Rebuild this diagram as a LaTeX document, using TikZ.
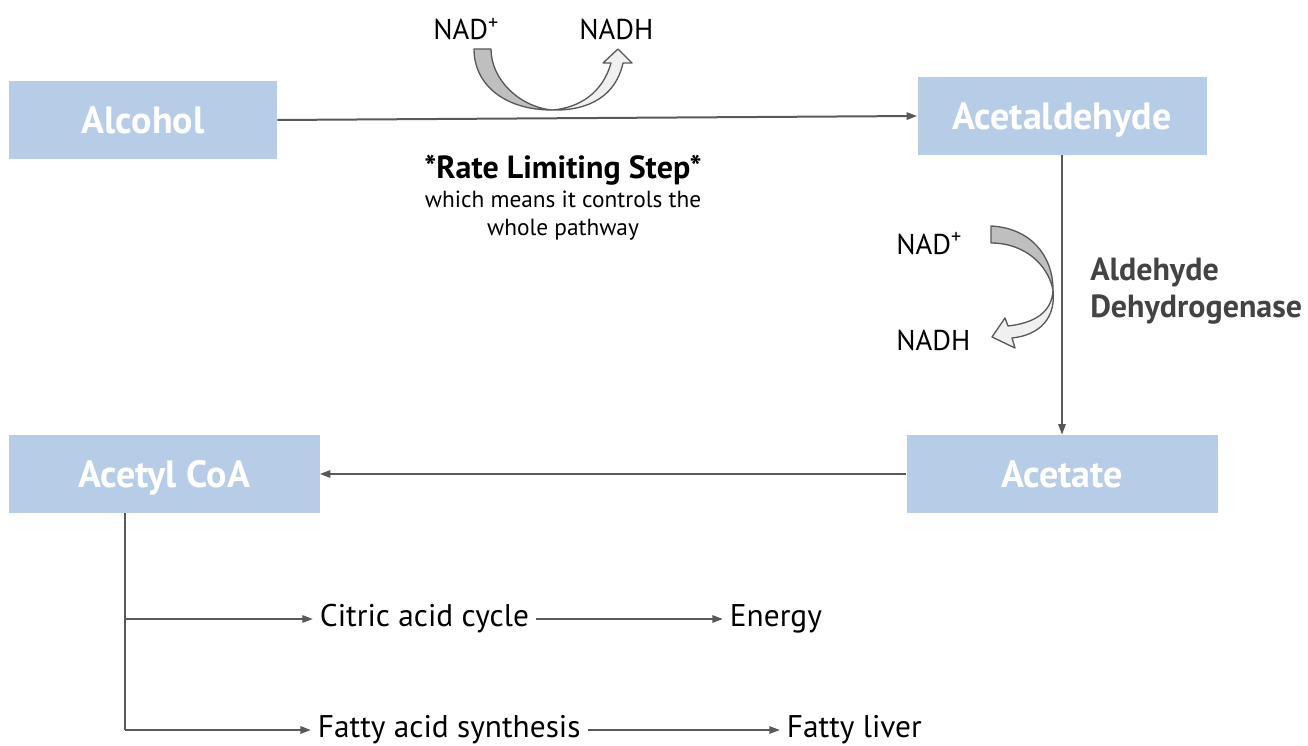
\documentclass[tikz,border=0pt]{standalone}
\usepackage{fontspec}
\setmainfont{PT Sans}
\usetikzlibrary{arrows.meta,positioning}
\definecolor{boxblue}{RGB}{183,205,231}
\definecolor{linegray}{RGB}{89,89,89}
\definecolor{darkfill}{RGB}{191,191,191}
\definecolor{lightfill}{RGB}{240,240,240}
\definecolor{enzgray}{RGB}{67,67,67}

\begin{document}
\begin{tikzpicture}[x=0.75pt,y=-0.75pt,
    stepbox/.style={fill=boxblue, text=white, font=\bfseries\fontsize{28.5}{32}\selectfont,
      minimum height=58.5pt, inner sep=0pt, text height=20pt, text depth=0pt},
    flow/.style={draw=linegray, line width=1.5pt, -{Triangle[length=8pt,width=5.5pt]}},
    cofactor/.style={font=\fontsize{21.5}{25}\selectfont, inner sep=0pt, anchor=base west},
    product/.style={font=\fontsize{23.5}{27}\selectfont, inner xsep=5pt, inner ysep=0pt, anchor=west},
    cofarrow/.style={draw=linegray, line width=1pt, line join=round}]

    \useasboundingbox (0,0) rectangle (1308,745);

    % Boxes
    \node[stepbox, minimum width=201pt] (alcohol) at (143,120) {Alcohol};
    \node[stepbox, minimum width=216.75pt] (acetald) at (1062,116) {Acetaldehyde};
    \node[stepbox, minimum width=233.25pt] (acetate) at (1062,474) {Acetate};
    \node[stepbox, minimum width=233.25pt] (acetylcoa) at (164,474) {Acetyl CoA};

    % Cofactors
    \node[cofactor] (nadA) at (433,40) {NAD\textsuperscript{+}};
    \node[cofactor] (nadhA) at (579,40) {NADH};
    \node[cofactor] (nadB) at (896,254) {NAD\textsuperscript{+}};
    \node[cofactor] (nadhB) at (896,350) {NADH};

    % Notes
    \node[align=center, anchor=north, inner sep=0pt,
      font=\fontsize{17.5}{21}\selectfont] (rate) at (563,155)
      {{\bfseries\fontsize{24}{21}\selectfont *Rate Limiting Step*}\\[1pt]
       which means it controls the\\ whole pathway};
    \node[align=left, anchor=north west, inner sep=0pt, text=enzgray,
      font=\bfseries\fontsize{24}{27.75}\selectfont] (enzyme) at (1090,258)
      {Aldehyde\\ Dehydrogenase};

    % Products
    \node[product] (citric) at (313,619) {Citric acid cycle};
    \node[product] (energy) at (723,619) {Energy};
    \node[product] (fattyacid) at (311,730) {Fatty acid synthesis};
    \node[product] (fattyliver) at (780,730) {Fatty liver};

    % Main pathway
    \draw[flow] (alcohol.east) -- (acetald.west);
    \draw[flow] (acetald.south) -- (acetate.north);
    \draw[flow] (acetate.west) -- (acetylcoa.east);

    % Branches
    \coordinate (trunk) at (125,730);
    \draw[draw=linegray, line width=1.5pt] (acetylcoa.south -| trunk) -- (trunk);
    \draw[flow] (trunk |- citric.west) -- (citric.west);
    \draw[flow] (trunk) -- (fattyacid.west);
    \draw[flow] (citric.east) -- (energy.west);
    \draw[flow] (fattyacid.east) -- (fattyliver.west);

    % NAD+ -> NADH, first step
    \draw[cofarrow, fill=darkfill] (474,49) -- (491,49)
      .. controls (491,80) and (520,107) .. (552,110)
      .. controls (505,110) and (474,85) .. cycle;
    \draw[cofarrow, fill=lightfill] (552,110)
      .. controls (580,108) and (603,92) .. (611,63)
      -- (603,63) -- (618,49) -- (632,63) -- (623,63)
      .. controls (616,95) and (590,111) .. cycle;

    % NAD+ -> NADH, second step
    \draw[cofarrow, fill=darkfill] (991,226)
      .. controls (1030,228) and (1053,255) .. (1053,290)
      .. controls (1048,265) and (1025,243) .. (991,243) -- cycle;
    \draw[cofarrow, fill=lightfill] (1053,290)
      .. controls (1052,312) and (1035,323) .. (1008,326)
      -- (1005,318) -- (992,337) -- (1015,348) -- (1012,338)
      .. controls (1040,335) and (1056,318) .. cycle;
\end{tikzpicture}
\end{document}
